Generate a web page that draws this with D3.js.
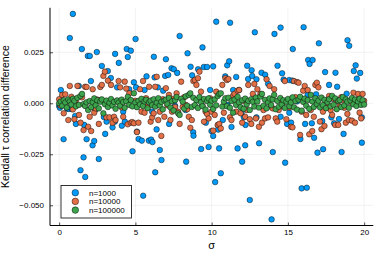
<!DOCTYPE html>
<html>
<head>
<meta charset="utf-8">
<script src="https://cdn.jsdelivr.net/npm/d3@7"></script>
<style>
  body { margin: 0; background: #fff; }
  svg { display: block; font-family: "Liberation Sans", Arial, sans-serif; }
</style>
</head>
<body>
<svg></svg>
<script>
const w = 380;
const h = 254;
const plot = { left: 50, right: 373.3, top: 7.8, bottom: 225.5 };
const markerR = 2.8;

const seriesNames = ["n=1000", "n=10000", "n=100000"];
const colors = ["#009AFA", "#E26F46", "#3DA44D"];
const xTicks = [0, 5, 10, 15, 20];
const yTicks = [-0.05, -0.025, 0, 0.025];

/** sigma grid shared by n=10000 and n=100000 */
const sigma = d3.range(201).map((i) => i / 10);

/** n=1000: [sigma, difference] */
const n1000 = [
  [0.0,-0.0013],[0.05,-0.0022],[0.11,0.0065],[0.29,-0.0176],[0.52,-0.0026],[0.64,-0.0028],[0.70,0.0320],[0.83,-0.0028],[0.90,0.0438],[1.05,-0.0062],
  [1.10,-0.0101],[1.29,0.0085],[1.40,-0.0328],[1.49,0.0266],[1.60,-0.0265],[1.64,-0.0106],[1.71,-0.0361],[1.80,-0.0176],[1.88,0.0232],[2.01,0.0232],
  [2.08,0.0109],[2.19,-0.0206],[2.30,-0.0185],[2.36,-0.0033],[2.47,0.0251],[2.60,-0.0273],[2.70,0.0016],[2.80,0.0183],[2.93,-0.0067],[3.02,-0.0150],[3.11,-0.0090],
  [3.19,0.0158],[3.39,0.0124],[3.50,-0.0118],[3.65,-0.0090],[3.67,0.0242],[3.80,0.0078],[3.91,0.0198],[4.11,-0.0110],[4.20,-0.0041],[4.31,-0.0090],
  [4.43,0.0266],[4.50,0.0227],[4.59,0.0069],[4.70,0.0258],[4.81,-0.0235],[4.90,0.0103],[5.01,0.0315],[5.04,0.0078],[5.10,-0.0139],[5.21,-0.0175],
  [5.42,-0.0183],[5.51,-0.0453],[5.60,0.0065],[5.73,0.0132],[5.88,-0.0183],[6.03,-0.0178],[6.10,-0.0041],[6.12,-0.0190],[6.21,0.0228],[6.26,0.0127],
  [6.30,-0.0338],[6.39,-0.0128],[6.47,0.0078],[6.60,-0.0229],[6.71,-0.0278],[6.82,0.0062],[6.95,0.0134],[7.00,0.0216],[7.15,0.0139],[7.21,-0.0101],
  [7.37,0.0172],[7.52,0.0167],[7.60,-0.0012],[7.74,0.0149],[7.90,0.0330],[8.29,-0.0033],[8.33,-0.0286],[8.42,0.0245],[8.62,0.0179],[8.72,0.0137],[8.79,-0.0142],
  [8.81,-0.0159],[9.11,0.0167],[9.20,0.0021],[9.31,-0.0224],[9.40,0.0274],[9.49,0.0178],[9.62,-0.0095],[9.70,0.0178],[9.80,-0.0214],[9.90,0.0065],[9.99,-0.0136],
  [10.10,0.0181],[10.10,-0.0160],[10.23,-0.0386],[10.30,0.0400],[10.41,-0.0108],[10.43,-0.0129],[10.49,-0.0221],[10.60,-0.0343],[10.73,-0.0082],[10.89,0.0132],
  [11.02,0.0186],[11.04,-0.0008],[11.15,0.0206],[11.21,0.0395],[11.30,-0.0116],[11.41,0.0065],[11.61,0.0129],[11.70,-0.0221],[11.80,0.0065],[11.96,-0.0049],
  [12.00,-0.0286],[12.11,-0.0069],[12.20,-0.0206],[12.22,-0.0106],[12.33,0.0184],[12.39,0.0119],[12.50,-0.0474],[12.62,0.0162],[12.66,0.0134],[12.83,0.0348],
  [12.94,0.0118],[12.94,-0.0069],[13.11,-0.0196],[13.27,0.0150],[13.40,-0.0018],[13.51,0.0140],[13.70,0.0096],[13.93,-0.0569],[14.01,-0.0239],[14.12,0.0340],[14.32,0.0184],
  [14.52,0.0371],[14.52,-0.0066],[14.62,0.0147],[14.72,0.0116],[14.82,-0.0291],[14.95,-0.0101],[15.09,0.0114],[15.09,-0.0046],[15.21,-0.0095],[15.29,0.0111],
  [15.32,0.0266],[15.60,0.0009],[15.82,-0.0175],[15.90,-0.0417],[16.03,0.0373],[16.13,-0.0101],[16.24,-0.0414],[16.30,0.0041],[16.33,0.0212],[16.42,0.0193],[16.57,-0.0098],
  [16.62,0.0212],[16.72,-0.0169],[16.85,0.0044],[16.94,-0.0242],[17.03,0.0294],[17.25,-0.0087],[17.31,-0.0225],[17.44,0.0153],[17.70,0.0090],[17.85,-0.0069],
  [17.90,0.0024],[18.03,-0.0098],[18.12,0.0150],[18.23,0.0081],[18.35,-0.0077],[18.52,-0.0239],[18.65,-0.0150],[18.85,0.0047],[18.91,0.0309],[19.02,0.0282],[19.32,0.0158],
  [19.44,0.0186],[19.52,0.0121],[19.74,0.0149],[19.83,0.0006],[19.85,-0.0069],[19.85,-0.0193]
];

/** n=10000, one value per sigma step */
const n10000 = [
  0.0020,-0.0012,0.0041,-0.0049,0.0044,0.0008,-0.0082,0.0085,0.0032,-0.0030,
  -0.0078,0.0015,0.0085,-0.0057,-0.0095,0.0029,-0.0131,0.0081,0.0080,-0.0115,
  -0.0066,-0.0136,0.0069,-0.0046,-0.0025,0.0018,-0.0101,0.0080,0.0090,0.0134,
  0.0155,-0.0069,0.0111,-0.0069,0.0090,-0.0095,-0.0066,-0.0082,0.0012,0.0109,
  0.0078,-0.0020,-0.0066,0.0106,0.0072,-0.0103,0.0049,-0.0095,-0.0092,-0.0098,
  0.0012,-0.0141,-0.0095,0.0069,-0.0041,0.0109,-0.0046,0.0025,-0.0015,0.0081,
  -0.0090,-0.0069,-0.0049,0.0081,0.0130,-0.0082,-0.0041,-0.0160,0.0020,-0.0066,
  0.0074,-0.0010,0.0041,-0.0082,-0.0041,0.0022,-0.0018,0.0049,-0.0041,-0.0101,
  0.0106,-0.0017,0.0030,-0.0008,-0.0029,-0.0066,-0.0120,-0.0082,0.0109,0.0114,
  0.0090,0.0123,0.0155,0.0057,-0.0012,-0.0090,-0.0041,-0.0052,-0.0074,0.0025,
  -0.0041,-0.0134,-0.0057,0.0057,-0.0106,-0.0101,-0.0123,0.0090,-0.0046,0.0123,
  0.0114,0.0119,-0.0069,-0.0082,0.0037,0.0046,-0.0041,0.0062,0.0065,-0.0049,
  -0.0095,0.0012,-0.0066,-0.0033,0.0090,-0.0078,-0.0101,0.0046,0.0095,-0.0074,
  0.0069,-0.0115,0.0046,-0.0095,-0.0033,-0.0074,0.0118,-0.0069,0.0085,-0.0017,
  -0.0025,0.0069,-0.0074,-0.0090,-0.0033,0.0020,-0.0013,0.0005,0.0109,-0.0078,
  0.0016,-0.0020,-0.0115,-0.0118,0.0109,0.0030,0.0104,0.0101,-0.0155,-0.0041,
  0.0062,0.0085,-0.0057,0.0065,-0.0152,-0.0033,-0.0136,-0.0066,0.0090,0.0101,
  0.0078,-0.0090,-0.0127,-0.0041,-0.0111,0.0012,-0.0020,0.0036,-0.0033,-0.0057,
  0.0022,-0.0106,0.0010,-0.0106,-0.0015,0.0030,0.0016,-0.0022,-0.0095,-0.0052,
  -0.0082,0.0008,-0.0085,0.0052,-0.0095,0.0018,0.0046,-0.0046,-0.0074,0.0046,
  0.0012
];

/** n=100000, one value per sigma step */
const n100000 = [
  0.0000,0.0008,-0.0012,0.0015,0.0004,-0.0021,0.0018,0.0009,-0.0006,0.0022,
  0.0012,-0.0015,0.0027,-0.0008,0.0036,0.0046,-0.0004,-0.0013,0.0005,-0.0033,
  0.0011,-0.0019,0.0006,0.0024,-0.0010,0.0015,-0.0025,0.0008,0.0019,-0.0049,
  -0.0005,0.0013,-0.0018,0.0002,0.0021,-0.0011,0.0007,-0.0027,0.0014,0.0003,
  -0.0012,0.0018,0.0006,-0.0022,0.0010,0.0032,-0.0008,0.0016,-0.0015,0.0049,
  0.0004,-0.0019,0.0012,-0.0006,0.0022,-0.0013,0.0009,0.0017,-0.0024,0.0005,
  0.0013,-0.0009,0.0020,-0.0016,0.0003,0.0025,-0.0011,0.0007,-0.0030,0.0014,
  0.0018,-0.0004,0.0026,-0.0021,0.0010,-0.0035,0.0015,0.0031,-0.0049,-0.0057,
  0.0022,0.0008,-0.0026,0.0034,-0.0012,0.0041,0.0049,-0.0018,0.0027,-0.0009,
  0.0016,-0.0023,0.0030,0.0005,-0.0014,0.0021,-0.0031,0.0011,0.0024,-0.0007,
  0.0013,-0.0028,0.0019,-0.0010,0.0036,0.0046,0.0049,-0.0016,0.0008,0.0025,
  -0.0014,0.0027,-0.0022,0.0011,-0.0046,0.0018,-0.0008,0.0032,0.0004,-0.0019,
  0.0015,-0.0027,0.0023,-0.0005,0.0012,-0.0033,0.0020,0.0007,-0.0016,0.0028,
  0.0009,-0.0021,0.0033,0.0046,-0.0012,0.0017,-0.0025,0.0005,0.0024,-0.0009,
  0.0019,0.0041,-0.0029,0.0012,-0.0017,0.0026,-0.0006,0.0015,-0.0023,0.0008,
  0.0021,-0.0014,0.0004,0.0029,-0.0020,0.0011,-0.0031,0.0018,0.0032,-0.0036,
  0.0007,0.0023,-0.0012,0.0016,-0.0027,0.0041,0.0009,-0.0018,0.0025,-0.0004,
  0.0013,-0.0020,0.0028,-0.0009,0.0017,-0.0024,0.0006,0.0020,-0.0015,0.0036,
  -0.0007,0.0024,-0.0029,0.0011,0.0016,-0.0018,0.0030,-0.0011,0.0019,0.0008,
  -0.0022,0.0014,0.0026,-0.0005,0.0018,-0.0013,0.0009,0.0022,-0.0008,0.0015,
  -0.0006
];

const series = [
  n1000,
  sigma.map((s, i) => [s, n10000[i]]),
  sigma.map((s, i) => [s, n100000[i]]),
];

const svg = d3.select("svg").attr("width", w).attr("height", h);

const xScale = d3.scaleLinear().domain([-0.6, 20.6]).range([plot.left, plot.right]);
const yScale = d3.scaleLinear().domain([-0.0599, 0.0468]).range([plot.bottom, plot.top]);

/** grid */
svg.append("g")
  .selectAll("line")
  .data(xTicks)
  .enter()
  .append("line")
  .attr("x1", (d) => xScale(d)).attr("x2", (d) => xScale(d))
  .attr("y1", plot.top).attr("y2", plot.bottom)
  .attr("stroke", "#000").attr("stroke-opacity", 0.1).attr("stroke-width", 0.5);

svg.append("g")
  .selectAll("line")
  .data(yTicks)
  .enter()
  .append("line")
  .attr("y1", (d) => yScale(d)).attr("y2", (d) => yScale(d))
  .attr("x1", plot.left).attr("x2", plot.right)
  .attr("stroke", "#000").attr("stroke-opacity", 0.1).attr("stroke-width", 0.5);

/** axes */
const xAxis = svg.append("g")
  .attr("transform", `translate(0,${plot.bottom})`)
  .call(d3.axisBottom(xScale).tickValues(xTicks).tickSize(-3).tickPadding(4).tickSizeOuter(0));
const yAxis = svg.append("g")
  .attr("transform", `translate(${plot.left},0)`)
  .call(d3.axisLeft(yScale).tickValues(yTicks).tickFormat(d3.format(".3f")).tickSize(-3).tickPadding(6).tickSizeOuter(0));

[xAxis, yAxis].forEach((ax) => {
  ax.select(".domain").attr("stroke", "#000").attr("stroke-width", 1);
  ax.selectAll(".tick line").attr("stroke", "#000").attr("stroke-width", 0.7);
  ax.selectAll(".tick text").attr("font-size", 8).attr("fill", "#000")
    .attr("font-family", "Liberation Sans, Arial, sans-serif");
});
xAxis.select(".domain").attr("d", `M${plot.left},0H${plot.right}`);
yAxis.select(".domain").attr("d", `M0,${plot.top}V${plot.bottom}`);

/** points */
series.forEach((data, k) => {
  svg.append("g")
    .selectAll("circle")
    .data(data)
    .enter()
    .append("circle")
    .attr("cx", (d) => xScale(d[0]))
    .attr("cy", (d) => yScale(d[1]))
    .attr("r", markerR)
    .attr("fill", colors[k])
    .attr("stroke", "rgba(0,0,0,0.75)")
    .attr("stroke-width", 0.6);
});

/** labels */
svg.append("text")
  .text("σ")
  .attr("x", (plot.left + plot.right) / 2)
  .attr("y", 249)
  .attr("text-anchor", "middle")
  .attr("font-size", 11);

svg.append("text")
  .text("Kendall τ correlation difference")
  .attr("transform", `translate(9,${(plot.top + plot.bottom) / 2}) rotate(-90)`)
  .attr("text-anchor", "middle")
  .attr("font-size", 10.5);

/** legend */
const legend = svg.append("g");
legend.append("rect")
  .attr("x", 61).attr("y", 185.5).attr("width", 70.5).attr("height", 32.5)
  .attr("fill", "#fff").attr("stroke", "#000").attr("stroke-width", 0.8);

const rows = legend.selectAll("g.row")
  .data(seriesNames)
  .enter()
  .append("g")
  .attr("class", "row")
  .attr("transform", (d, i) => `translate(0,${192.7 + i * 8.7})`);
rows.append("circle")
  .attr("cx", 75.3).attr("cy", 0).attr("r", 3.3)
  .attr("fill", (d, i) => colors[i])
  .attr("stroke", "rgba(0,0,0,0.75)").attr("stroke-width", 0.6);
rows.append("text")
  .text((d) => d)
  .attr("x", 89).attr("y", 0).attr("dy", "0.35em")
  .attr("font-size", 8);
</script>
</body>
</html>
